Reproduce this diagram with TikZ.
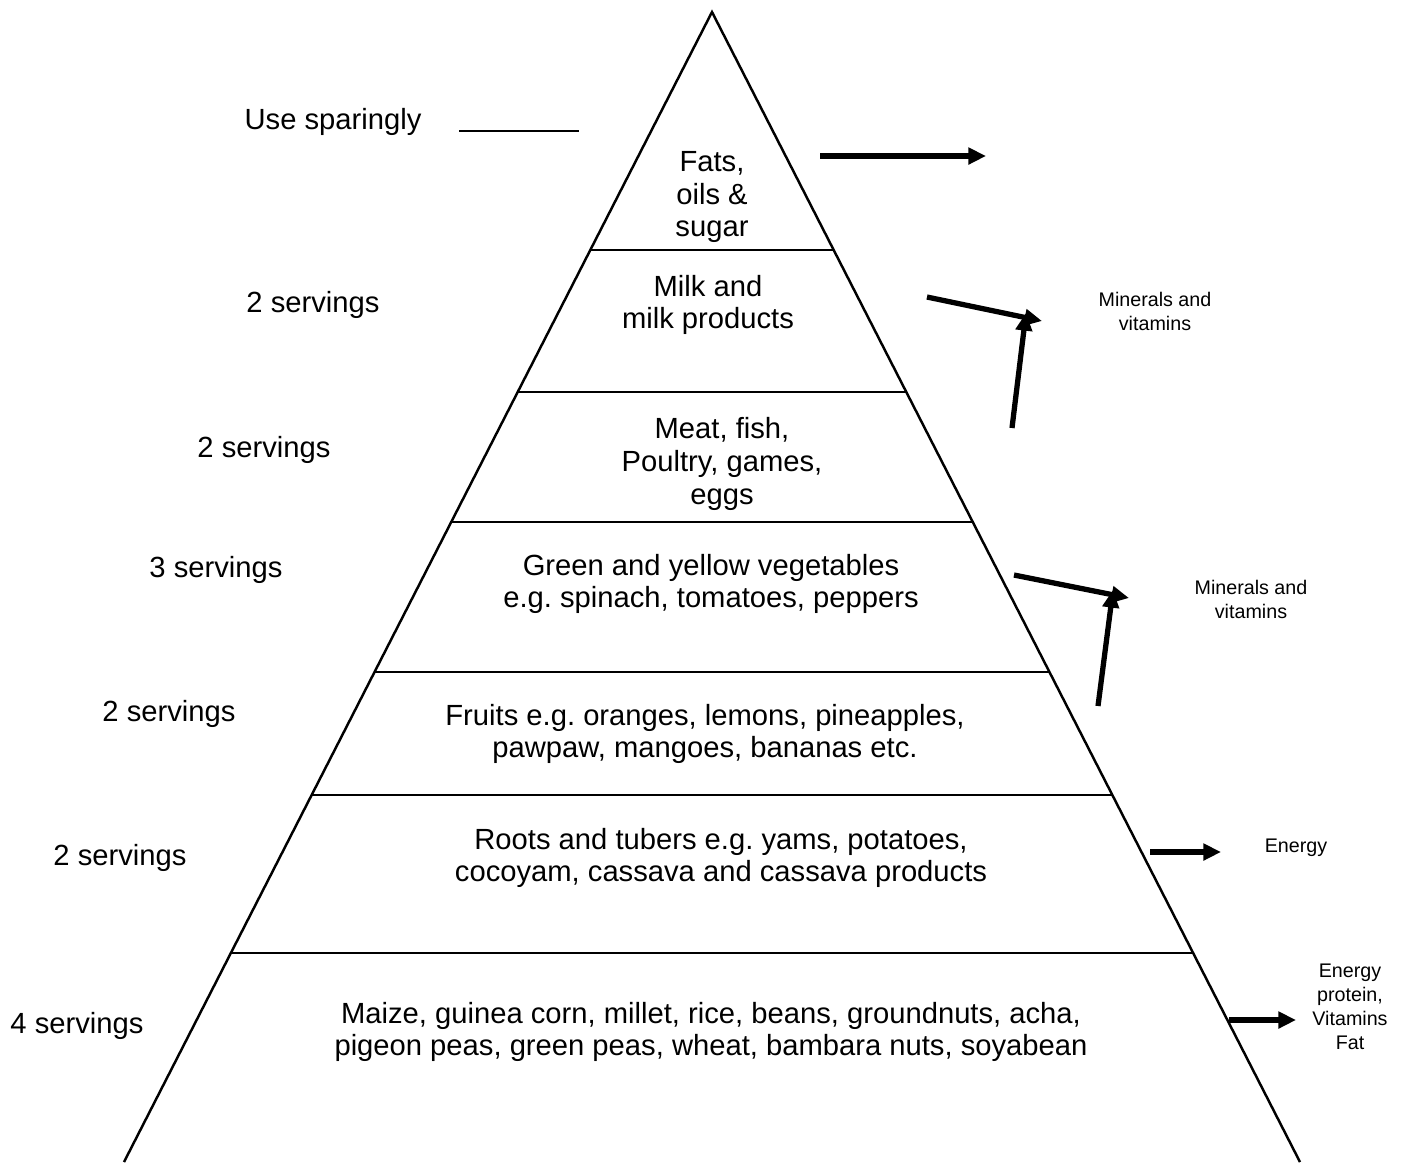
\documentclass[tikz,border=0pt]{standalone}
\usepackage{fontspec}
\setmainfont{Liberation Sans}
\frenchspacing
\usetikzlibrary{positioning,calc,arrows.meta}

\tikzset{
  food/.style={align=center,inner sep=0pt,font=\fontsize{8.3}{9.3}\selectfont},
  serve/.style={inner sep=0pt,font=\fontsize{8.3}{9.3}\selectfont},
  gain/.style={align=center,inner sep=0pt,font=\fontsize{5.6}{6.8}\selectfont},
  bigarrow/.style={line width=1.5pt,-{Triangle[length=5pt,width=4.6pt]}}
}

\begin{document}
\begin{tikzpicture}[x=0.01cm,y=-0.01cm,line width=0.7pt]
\useasboundingbox (0,0) rectangle (1402,1162);
% pyramid
\coordinate (apex) at (712,12);
\coordinate (bl) at (124,1162);
\coordinate (br) at (1300,1162);
\draw (bl) -- (apex) -- (br);
\foreach \t in {0.2070,0.3304,0.4435,0.5739,0.6809,0.8183}
  \draw ($(apex)!\t!(bl)$) -- ($(apex)!\t!(br)$);

% food groups
\node[food] (fats) at (712,197) {Fats,\\oils \&\\sugar};
\node[food] (milk) at (708,305) {Milk and\\milk products};
\node[food] (meat) at (722,464) {Meat, fish,\\Poultry, games,\\eggs};
\node[food] (veg) at (711,584) {Green and yellow vegetables\\e.g. spinach, tomatoes, peppers};
\node[food] (fruit) at (705,734) {Fruits e.g. oranges, lemons, pineapples,\\pawpaw, mangoes, bananas etc.};
\node[food] (roots) at (721,858) {Roots and tubers e.g. yams, potatoes,\\cocoyam, cassava and cassava products};
\node[food] (grain) at (711,1032) {Maize, guinea corn, millet, rice, beans, groundnuts, acha,\\pigeon peas, green peas, wheat, bambara nuts, soyabean};

% servings
\node[serve] (spare) at (333,122) {Use sparingly};
\draw[line width=0.6pt] (459,131) coordinate (sp1) -- (579,131) coordinate (sp2);
\node[serve] (s1) at (313,305) {2 servings};
\node[serve] (s2) at (264,450) {2 servings};
\node[serve] (s3) at (216,570) {3 servings};
\node[serve] (s4) at (169,714) {2 servings};
\node[serve] (s5) at (120,858) {2 servings};
\node[serve] (s6) at (77,1026) {4 servings};

% nutrients
\node[gain] (mv1) at (1155,311) {Minerals and\\vitamins};
\node[gain] (mv2) at (1251,599) {Minerals and\\vitamins};
\node[gain] (en1) at (1296,848) {Energy};
\node[gain] (en2) at (1350,1007) {Energy\\protein,\\Vitamins\\Fat};

% arrows
\coordinate (a0) at (820,156);
\coordinate (a0t) at (986,156);
\draw[bigarrow] (a0) -- (a0t);
\coordinate (a1) at (927,297);
\coordinate (a2) at (1012,428);
\coordinate (mv1t) at (1042,321);
\draw[bigarrow] (a1) -- (mv1t);
\draw[bigarrow] (a2) -- ($(mv1t)+(-16,-8)$);
\coordinate (b1) at (1014,575);
\coordinate (b2) at (1098,706);
\coordinate (mv2t) at (1129,598);
\draw[bigarrow] (b1) -- (mv2t);
\draw[bigarrow] (b2) -- ($(mv2t)+(-16,-8)$);
\coordinate (c1) at (1150,852);
\coordinate (c1t) at (1221,852);
\draw[bigarrow] (c1) -- (c1t);
\coordinate (d1) at (1229,1020);
\coordinate (d1t) at (1296,1020);
\draw[bigarrow] (d1) -- (d1t);
\end{tikzpicture}
\end{document}
